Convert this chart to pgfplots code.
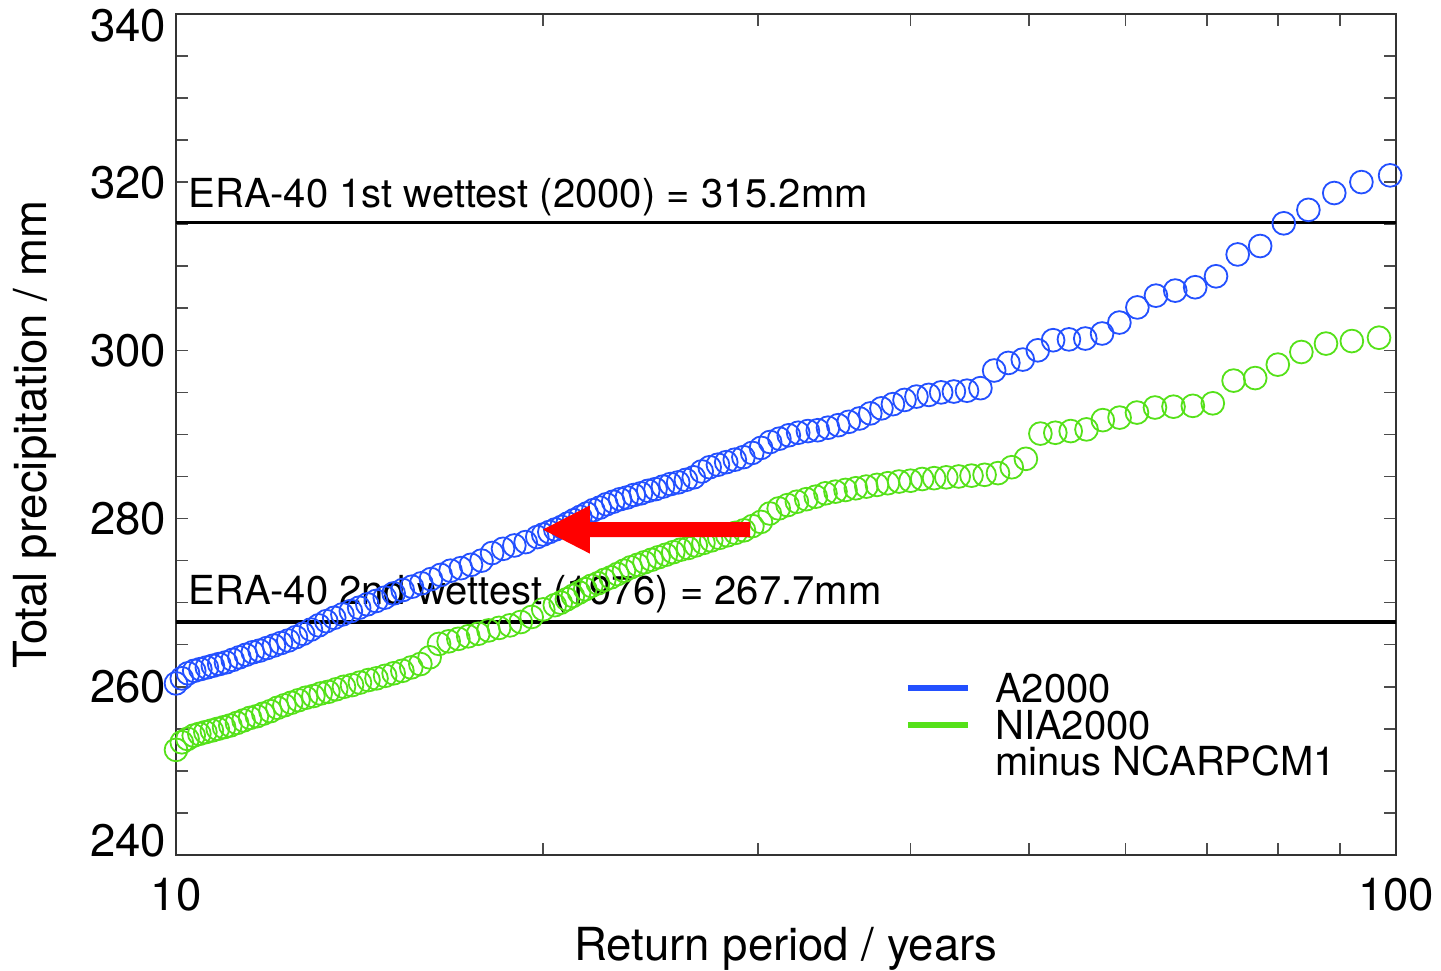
\documentclass[border=0pt]{standalone}
\usepackage{pgfplots}
\pgfplotsset{compat=1.18}
\usepackage{pgfplotstable}
\usepackage{fontspec}
\setmainfont{TeX Gyre Heros}
\definecolor{blueC}{RGB}{35,80,255}
\definecolor{greenC}{RGB}{85,225,25}
\newcommand\fA{\fontsize{16.4}{19}\selectfont}
\newcommand\fB{\fontsize{14.4}{16}\selectfont}
\newcommand\yl[2]{\smash{\raisebox{#1}{#2}}}

\pgfplotstableread{
T y
98.89 320.8
93.68 320.0
89.00 318.7
84.76 316.7
80.91 315.1
77.39 312.4
74.17 311.4
71.20 308.8
68.46 307.5
65.93 307.1
63.57 306.5
61.38 305.1
59.33 303.3
57.42 302.0
55.63 301.4
53.94 301.3
52.35 301.2
50.86 300.0
49.44 298.9
48.11 298.5
46.84 297.6
45.64 295.5
44.50 295.2
43.41 295.1
42.38 295.0
41.40 294.7
40.45 294.5
39.56 294.1
38.70 293.6
37.87 293.1
37.08 292.5
36.33 291.9
35.60 291.5
34.90 291.1
34.23 290.8
33.58 290.5
32.96 290.4
32.36 290.2
31.79 289.9
31.23 289.5
30.69 289.1
30.17 288.4
29.67 287.8
29.18 287.3
28.71 287.0
28.25 286.7
27.81 286.4
27.38 286.1
26.97 285.6
26.57 284.9
26.18 284.6
25.80 284.3
25.43 284.1
25.07 283.8
24.72 283.5
24.38 283.3
24.05 283.0
23.73 282.8
23.42 282.5
23.12 282.3
22.82 282.0
22.53 281.7
22.25 281.3
21.98 281.0
21.71 280.6
21.45 280.2
21.19 279.8
20.94 279.4
20.70 279.0
20.46 278.7
20.23 278.4
20.00 278.1
19.78 277.8
19.35 277.2
18.94 276.8
18.54 276.4
18.16 275.9
17.80 275.0
17.45 274.5
17.12 274.1
16.79 273.8
16.48 273.3
16.18 272.8
15.89 272.3
15.61 271.9
15.34 271.5
15.08 271.1
14.83 270.6
14.59 270.2
14.35 269.8
14.13 269.4
13.91 269.0
13.69 268.6
13.48 268.2
13.28 267.8
13.09 267.3
12.90 266.8
12.71 266.3
12.54 265.9
12.36 265.5
12.19 265.2
12.03 264.9
11.87 264.6
11.71 264.3
11.56 264.1
11.41 263.8
11.27 263.5
11.13 263.2
10.99 262.9
10.85 262.7
10.72 262.5
10.60 262.3
10.47 262.1
10.35 261.9
10.23 261.6
10.11 261.0
10.00 260.4
}\bluedata

\pgfplotstableread{
T y
96.84 301.5
92.00 301.1
87.62 300.8
83.64 299.8
80.00 298.3
76.67 296.7
73.60 296.4
70.77 293.7
68.15 293.4
65.71 293.3
63.45 293.2
61.33 292.6
59.35 292.0
57.50 291.7
55.76 290.6
54.12 290.4
52.57 290.2
51.11 290.1
49.73 287.1
48.42 286.1
47.18 285.4
46.00 285.2
44.88 285.1
43.81 285.0
42.79 284.9
41.82 284.8
40.89 284.7
40.00 284.5
39.15 284.4
38.33 284.2
37.55 284.0
36.80 283.8
36.08 283.6
35.38 283.4
34.72 283.2
34.07 283.0
33.45 282.6
32.86 282.3
32.28 282.0
31.72 281.6
31.19 281.2
30.67 280.6
30.16 279.6
29.68 279.1
29.21 278.6
28.75 278.3
28.31 278.0
27.88 277.7
27.46 277.4
27.06 277.1
26.67 276.8
26.29 276.5
25.92 276.3
25.56 276.0
25.21 275.7
24.86 275.4
24.53 275.1
24.21 274.8
23.90 274.5
23.59 274.2
23.29 273.8
23.00 273.4
22.72 273.0
22.44 272.7
22.17 272.3
21.90 272.0
21.65 271.6
21.40 271.2
21.15 270.8
20.91 270.4
20.67 270.0
20.44 269.7
20.00 269.2
19.57 268.3
19.17 267.7
18.78 267.3
18.40 267.0
18.04 266.7
17.69 266.3
17.36 266.0
17.04 265.7
16.73 265.4
16.43 265.1
16.14 263.5
15.86 262.7
15.59 262.3
15.33 261.9
15.08 261.6
14.84 261.3
14.60 261.0
14.38 260.8
14.15 260.5
13.94 260.2
13.73 260.0
13.53 259.7
13.33 259.4
13.14 259.2
12.96 258.9
12.78 258.7
12.60 258.4
12.43 258.1
12.27 257.8
12.11 257.5
11.95 257.1
11.79 256.8
11.65 256.5
11.50 256.3
11.36 256.0
11.22 255.7
11.08 255.4
10.95 255.2
10.82 255.0
10.70 254.8
10.57 254.6
10.45 254.4
10.34 254.2
10.22 253.8
10.11 253.4
10.00 252.5
}\greendata

\begin{document}
\begin{tikzpicture}
\begin{axis}[
  at={(0,0)}, anchor=south west,
  scale only axis, width=439.2pt, height=302.8pt,
  xmode=log, xmin=10, xmax=100, ymin=240, ymax=340,
  xtick={10,100}, xticklabels={10,100},
  minor xtick={20,30,40,50,60,70,80,90},
  ytick={240,260,280,300,320,340},
  yticklabels={\yl{-0.4pt}{240},\yl{-5.8pt}{260},\yl{-5.8pt}{280},\yl{-5.8pt}{300},\yl{-5.8pt}{320},\yl{-9.8pt}{340}},
  minor ytick={245,250,255,265,270,275,285,290,295,305,310,315,325,330,335},
  tick align=inside,
  major tick length=4.3pt, minor tick length=4.3pt,
  every tick/.style={black!70, line width=0.55pt},
  axis line style={black!80, line width=0.6pt},
  tick label style={font=\fA},
  /pgf/number format/assume math mode=true,
  xticklabel style={yshift=-5pt},
  xlabel={Return period / years},
  ylabel={Total precipitation / mm},
  label style={font=\fA},
  xlabel style={at={(axis description cs:0.5,-0.112)}, anchor=center},
  ylabel style={at={(axis description cs:-0.1157,0.5)}, anchor=center},
  legend style={draw=none, fill=none, at={(axis description cs:0.597,0.2207)}, anchor=north west,
    font=\fB, row sep=0pt, inner sep=0pt,
    nodes={inner sep=1.5pt, text height=10.2pt, text depth=0pt, anchor=west},
    /tikz/every odd column/.append style={column sep=7.2pt}},
  legend cell align=left,
  legend image code/.code={\draw[#1, line width=2.2pt] (0pt,0pt) -- (21.6pt,0pt);},
]
\addlegendimage{blueC}
\addlegendentry{A2000}
\addlegendimage{greenC}
\addlegendentry{NIA2000}
\addlegendimage{empty legend}
\addlegendentry{minus NCARPCM1}

\addplot[only marks, mark=o, mark size=4.1pt, greenC, mark options={line width=0.65pt}, forget plot] table[x=T,y=y] {\greendata};
\addplot[only marks, mark=o, mark size=4.1pt, blueC, mark options={line width=0.65pt}, forget plot] table[x=T,y=y] {\bluedata};

\addplot[black, line width=1.3pt, forget plot] coordinates {(10,315.2) (100,315.2)};
\addplot[black, line width=1.3pt, forget plot] coordinates {(10,267.7) (100,267.7)};

\node[anchor=base west, font=\fB, inner sep=0pt, xshift=4.3pt] at (axis cs:10,317.0) {ERA-40 1st wettest (2000) = 315.2mm};
\node[anchor=base west, font=\fB, inner sep=0pt, xshift=4.3pt] at (axis cs:10,269.8) {ERA-40 2nd wettest (1976) = 267.7mm};

\coordinate (a1) at (axis cs:19.99,278.69);
\coordinate (a2) at (axis cs:21.84,281.55);
\coordinate (a3) at (axis cs:21.84,279.58);
\coordinate (a4) at (axis cs:29.55,279.58);
\coordinate (a5) at (axis cs:29.55,277.80);
\coordinate (a6) at (axis cs:21.84,277.80);
\coordinate (a7) at (axis cs:21.84,275.83);
\end{axis}
\fill[red] (a1) -- (a2) -- (a3) -- (a4) -- (a5) -- (a6) -- (a7) -- cycle;
\pgfresetboundingbox
\useasboundingbox (-63.36pt,-41.76pt) rectangle (455.4pt,307.8pt);
\end{tikzpicture}
\end{document}
